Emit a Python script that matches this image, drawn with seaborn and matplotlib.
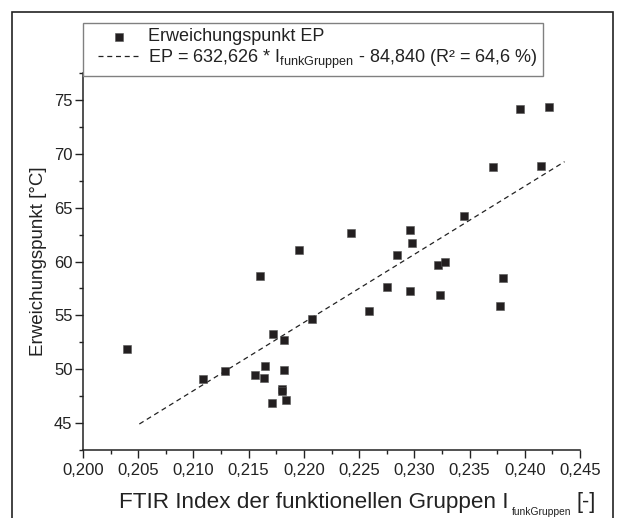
import numpy as np
import pandas as pd
import matplotlib
matplotlib.use("Agg")
import matplotlib.pyplot as plt
from matplotlib.patches import Rectangle
from matplotlib.ticker import MultipleLocator
from matplotlib.lines import Line2D
from matplotlib.collections import PathCollection
from matplotlib.legend_handler import HandlerLine2D, HandlerPathCollection
import seaborn as sns

# ---- data ----
ftir_index = [0.2040, 0.2109, 0.2129, 0.2156, 0.2164, 0.2165, 0.2172, 0.2182,
              0.2182, 0.2180, 0.2180, 0.2171, 0.2184, 0.2160, 0.2196, 0.2207,
              0.2396, 0.2422, 0.2371, 0.2415, 0.2345, 0.2243, 0.2296, 0.2298,
              0.2284, 0.2321, 0.2328, 0.2380, 0.2275, 0.2296, 0.2323, 0.2378,
              0.2259]
erweichungspunkt = [51.9, 49.1, 49.8, 49.5, 49.2, 50.3, 53.3, 52.7,
                    49.9, 48.2, 48.0, 46.9, 47.1, 58.7, 61.1, 54.7,
                    74.2, 74.3, 68.8, 68.9, 64.2, 62.6, 62.9, 61.7,
                    60.6, 59.7, 60.0, 58.5, 57.6, 57.3, 56.9, 55.9,
                    55.4]
slope = 632.626
intercept = -84.840
fit_x = [0.2051, 0.2436]
x_ticks = [0.200, 0.205, 0.210, 0.215, 0.220, 0.225, 0.230, 0.235, 0.240, 0.245]
x_tick_labels = ["0,200", "0,205", "0,210", "0,215", "0,220", "0,225",
                 "0,230", "0,235", "0,240", "0,245"]
y_ticks = [45, 50, 55, 60, 65, 70, 75]
label_points = "Erweichungspunkt EP"
label_fit = r"EP = 632,626 * I$_{\mathrm{funkGruppen}}$ - 84,840 (R² = 64,6 %)"
x_label_main = "FTIR Index der funktionellen Gruppen I"
x_label_sub = "funkGruppen"
x_label_end = "[-]"
y_label = "Erweichungspunkt [°C]"

df = pd.DataFrame({"x": ftir_index, "y": erweichungspunkt})
fit_df = pd.DataFrame({"x": fit_x, "y": [slope * v + intercept for v in fit_x]})

sns.set_style("ticks")
plt.rcParams["font.family"] = ["Liberation Sans", "DejaVu Sans"]
plt.rcParams["mathtext.fontset"] = "custom"
plt.rcParams["mathtext.rm"] = "Liberation Sans"
plt.rcParams["mathtext.it"] = "Liberation Sans:italic"
plt.rcParams["mathtext.bf"] = "Liberation Sans:bold"

W, H = 617, 518
TXT = "#222222"
fig = plt.figure(figsize=(W / 100, H / 100), dpi=100)
ax = fig.add_axes([83 / W, 1 - 450 / H, (580 - 83) / W, (450 - 73) / H])

sns.scatterplot(data=df, x="x", y="y", ax=ax, marker="s", s=40,
                color="#231f20", edgecolor="#555555", linewidth=0.4,
                label=label_points, zorder=3)
sns.lineplot(data=fit_df, x="x", y="y", ax=ax, color=TXT, lw=0.9,
             label=label_fit, zorder=2)
ax.lines[-1].set_dashes([4, 3])

ax.set_xlim(0.200, 0.245)
ax.set_ylim(42.5, 77.5)
ax.set_xticks(x_ticks)
ax.set_xticklabels(x_tick_labels)
ax.set_yticks(y_ticks)
ax.xaxis.set_minor_locator(MultipleLocator(0.0025))
ax.yaxis.set_minor_locator(MultipleLocator(2.5))
ax.tick_params(axis="both", which="major", length=5.5, width=1, direction="out",
               labelsize=12, color=TXT, labelcolor=TXT)
ax.tick_params(axis="x", which="major", pad=4)
ax.tick_params(axis="y", which="major", pad=2)
ax.tick_params(axis="both", which="minor", length=3, width=1, direction="out",
               color=TXT)
sns.despine(ax=ax)
for s in ["left", "bottom"]:
    ax.spines[s].set_linewidth(1.1)
    ax.spines[s].set_color(TXT)
ax.set_xlabel("")
ax.set_ylabel("")

# y label
fig.text(38.5 / W, 1 - 261 / H, y_label, rotation=90, ha="center", va="center",
         fontsize=13.5, color=TXT)

# x label built from pieces (small subscript)
fig.canvas.draw()
r = fig.canvas.get_renderer()
t_main = fig.text(119 / W, 1 - 508 / H, x_label_main, ha="left", va="baseline",
                  fontsize=16.2, color=TXT)
bb = t_main.get_window_extent(renderer=r)
t_sub = fig.text((bb.x1 + 3) / W, 1 - 515 / H, x_label_sub, ha="left",
                 va="baseline", fontsize=7.4, color=TXT)
bb2 = t_sub.get_window_extent(renderer=r)
fig.text((bb2.x1 + 5) / W, 1 - 508 / H, x_label_end, ha="left", va="baseline",
         fontsize=15.5, color=TXT)

handles, labels = ax.get_legend_handles_labels()
ax.get_legend().remove()
leg = fig.legend(handles, labels, loc="upper left",
                 bbox_to_anchor=(83 / W, 1 - 23 / H), borderaxespad=0,
                 fontsize=13, frameon=True, fancybox=False, framealpha=1,
                 edgecolor="#808080", borderpad=0.3, labelspacing=0.12,
                 handlelength=2.8, handletextpad=0.5, markerscale=0.8,
                 handler_map={Line2D: HandlerLine2D(xpad=0.55),
                              PathCollection: HandlerPathCollection(xpad=0.55)})
leg.get_frame().set_linewidth(1.0)
for t in leg.get_texts():
    t.set_color(TXT)

# outer frame
fig.patches.append(Rectangle((12 / W, -0.2), (613 - 12) / W, 1 - 12 / H + 0.2,
                             transform=fig.transFigure, fill=False,
                             edgecolor=TXT, linewidth=1.2, clip_on=False))

fig.savefig("out.png", dpi=100)
